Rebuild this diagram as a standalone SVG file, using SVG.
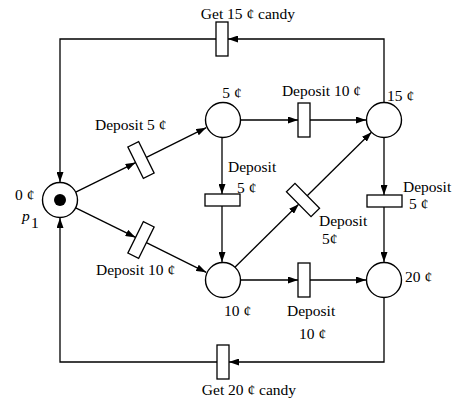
<svg xmlns="http://www.w3.org/2000/svg" width="454" height="402" viewBox="0 0 454 402">
<style>
text{font-family:"Liberation Serif","Times New Roman",serif;font-size:15.5px;fill:#000}
.pl{fill:#fff;stroke:#000;stroke-width:1.4}
.tr{fill:#fff;stroke:#000;stroke-width:1.3}
.cn{fill:none;stroke:#000;stroke-width:1.3}
</style>
<defs>
<marker id="ah" viewBox="0 0 10 7" refX="10" refY="3.5" markerWidth="10" markerHeight="7" markerUnits="userSpaceOnUse" orient="auto">
<path d="M0,0 L10,3.5 L0,7 z" fill="#000"/>
</marker>
</defs>
<rect width="454" height="402" fill="#fff"/>
<g id="connectors">
<path class="cn" d="M384,102 V39 H228" marker-end="url(#ah)"/>
<path class="cn" d="M216,39 H60 V182" marker-end="url(#ah)"/>
<path class="cn" d="M384,298 V362 H229" marker-end="url(#ah)"/>
<path class="cn" d="M217,362 H60 V218" marker-end="url(#ah)"/>
<path class="cn" d="M240,120 H298" marker-end="url(#ah)"/>
<path class="cn" d="M310,120 H366" marker-end="url(#ah)"/>
<path class="cn" d="M240,280 H298" marker-end="url(#ah)"/>
<path class="cn" d="M310,280 H366" marker-end="url(#ah)"/>
<path class="cn" d="M222,138 V194" marker-end="url(#ah)"/>
<path class="cn" d="M222,206 V262" marker-end="url(#ah)"/>
<path class="cn" d="M384,138 V195" marker-end="url(#ah)"/>
<path class="cn" d="M384,207 V262" marker-end="url(#ah)"/>
<path class="cn" d="M75.7,192.2 L135.6,162.6" marker-end="url(#ah)"/>
<path class="cn" d="M146.4,157.4 L206.2,127.7" marker-end="url(#ah)"/>
<path class="cn" d="M75.7,207.8 L135.6,237.4" marker-end="url(#ah)"/>
<path class="cn" d="M146.4,242.6 L206.2,272.3" marker-end="url(#ah)"/>
<path class="cn" d="M234.4,267.7 L298.7,204.2" marker-end="url(#ah)"/>
<path class="cn" d="M307.2,195.7 L371.5,132.2" marker-end="url(#ah)"/>
</g>
<g id="p0">
<circle class="pl" cx="60" cy="200" r="17.5"/>
<circle cx="60" cy="200" r="6" fill="#000"/>
<text x="15" y="200">0 ¢</text>
<text x="22" y="221" font-style="italic">p</text>
<text x="31" y="228">1</text>
</g>
<g id="p5">
<circle class="pl" cx="223" cy="120" r="17.5"/>
<text x="232" y="98" text-anchor="middle">5 ¢</text>
</g>
<g id="p15">
<circle class="pl" cx="384" cy="120" r="17.5"/>
<text x="387" y="101">15 ¢</text>
</g>
<g id="p10">
<circle class="pl" cx="223" cy="280" r="17.5"/>
<text x="224" y="316">10 ¢</text>
</g>
<g id="p20">
<circle class="pl" cx="384" cy="280" r="17.5"/>
<text x="405" y="282">20 ¢</text>
</g>
<g id="t_get15">
<rect class="tr" x="216" y="22" width="12" height="34"/>
<text x="248" y="19" text-anchor="middle">Get 15 ¢ candy</text>
</g>
<g id="t_get20">
<rect class="tr" x="217" y="345" width="12" height="34"/>
<text x="249" y="395" text-anchor="middle">Get 20 ¢ candy</text>
</g>
<g id="t_d10_top">
<rect class="tr" x="298" y="103" width="12" height="34"/>
<text x="321.5" y="96" text-anchor="middle">Deposit 10 ¢</text>
</g>
<g id="t_d10_bot">
<rect class="tr" x="298" y="263" width="12" height="34"/>
<text x="287" y="316">Deposit</text>
<text x="299" y="339">10 ¢</text>
</g>
<g id="t_d5_mid">
<rect class="tr" x="205" y="194" width="35" height="12"/>
<text x="228" y="172">Deposit</text>
<text x="237" y="193">5 ¢</text>
</g>
<g id="t_d5_right">
<rect class="tr" x="367" y="195" width="35" height="12"/>
<text x="403" y="192">Deposit</text>
<text x="409" y="209">5 ¢</text>
</g>
<g id="t_d5_tl">
<rect class="tr" x="-6" y="-17.5" width="12" height="35" transform="translate(141,160) rotate(-26.3)"/>
<text x="95" y="130">Deposit 5 ¢</text>
</g>
<g id="t_d10_bl">
<rect class="tr" x="-6" y="-17.5" width="12" height="35" transform="translate(141,240) rotate(26.3)"/>
<text x="96" y="275">Deposit 10 ¢</text>
</g>
<g id="t_d5_diag">
<rect class="tr" x="-6" y="-17.5" width="12" height="35" transform="translate(303,200) rotate(-44.6)"/>
<text x="319" y="226">Deposit</text>
<text x="322" y="244">5¢</text>
</g>
</svg>
